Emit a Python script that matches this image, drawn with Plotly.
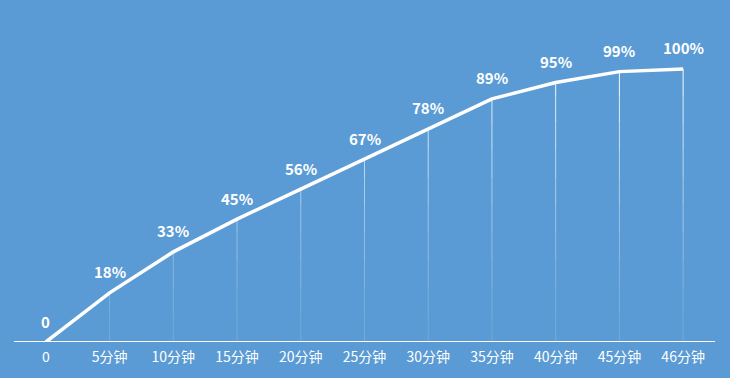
import plotly.graph_objects as go

categories = ["0", "5分钟", "10分钟", "15分钟", "20分钟", "25分钟", "30分钟", "35分钟", "40分钟", "45分钟", "46分钟"]
values = [0, 18, 33, 45, 56, 67, 78, 89, 95, 99, 100]
labels = ["0", "18%", "33%", "45%", "56%", "67%", "78%", "89%", "95%", "99%", "100%"]

BG = "#5B9BD5"
FONT = "Noto Sans CJK SC, Open Sans, sans-serif"
fig = go.Figure()

# main line first so the category order is set by it
fig.add_trace(go.Scatter(
    x=categories, y=values, mode="lines",
    line=dict(color="white", width=3.5),
    showlegend=False, cliponaxis=False,
))

# vertical drop lines with a fading gradient (brighter higher up)
bands = [(i * 10, (i + 1) * 10) for i in range(10)]
for lo, hi in bands:
    xs, ys = [], []
    for c, v in zip(categories[1:], values[1:]):
        if v > lo:
            xs += [c, c, None]
            ys += [lo, min(v, hi), None]
    alpha = 0.12 + 0.8 * (hi / 100) ** 1.5
    fig.add_trace(go.Scatter(x=xs, y=ys, mode="lines",
                             line=dict(color=f"rgba(255,255,255,{alpha:.2f})", width=1),
                             hoverinfo="skip", showlegend=False))

annotations = [
    dict(x=c, y=v, text=t, showarrow=False, yshift=21, xref="x", yref="y",
         font=dict(color="white", size=15, family=FONT, weight="bold"))
    for c, v, t in zip(categories, values, labels)
]

fig.update_layout(
    width=730, height=378,
    paper_bgcolor=BG, plot_bgcolor=BG,
    margin=dict(l=14, r=15, t=20, b=36, autoexpand=False),
    font=dict(family=FONT, color="white"),
    xaxis=dict(type="category", categoryorder="array", categoryarray=categories,
               range=[-0.5, 10.5], showgrid=False, zeroline=False, automargin=False,
               showline=False, ticks="", ticklabelstandoff=5,
               tickfont=dict(size=14, color="white")),
    yaxis=dict(range=[0, 117.9], visible=False, showgrid=False, zeroline=False, automargin=False),
    annotations=annotations,
    shapes=[dict(type="line", xref="paper", yref="y", x0=0, x1=1, y0=0, y1=0,
                 line=dict(color="white", width=2), layer="above")],
)

fig.write_html("out.html",
               config={"displayModeBar": False},
               post_script="document.body.style.margin='0';document.body.style.overflow='hidden';")
